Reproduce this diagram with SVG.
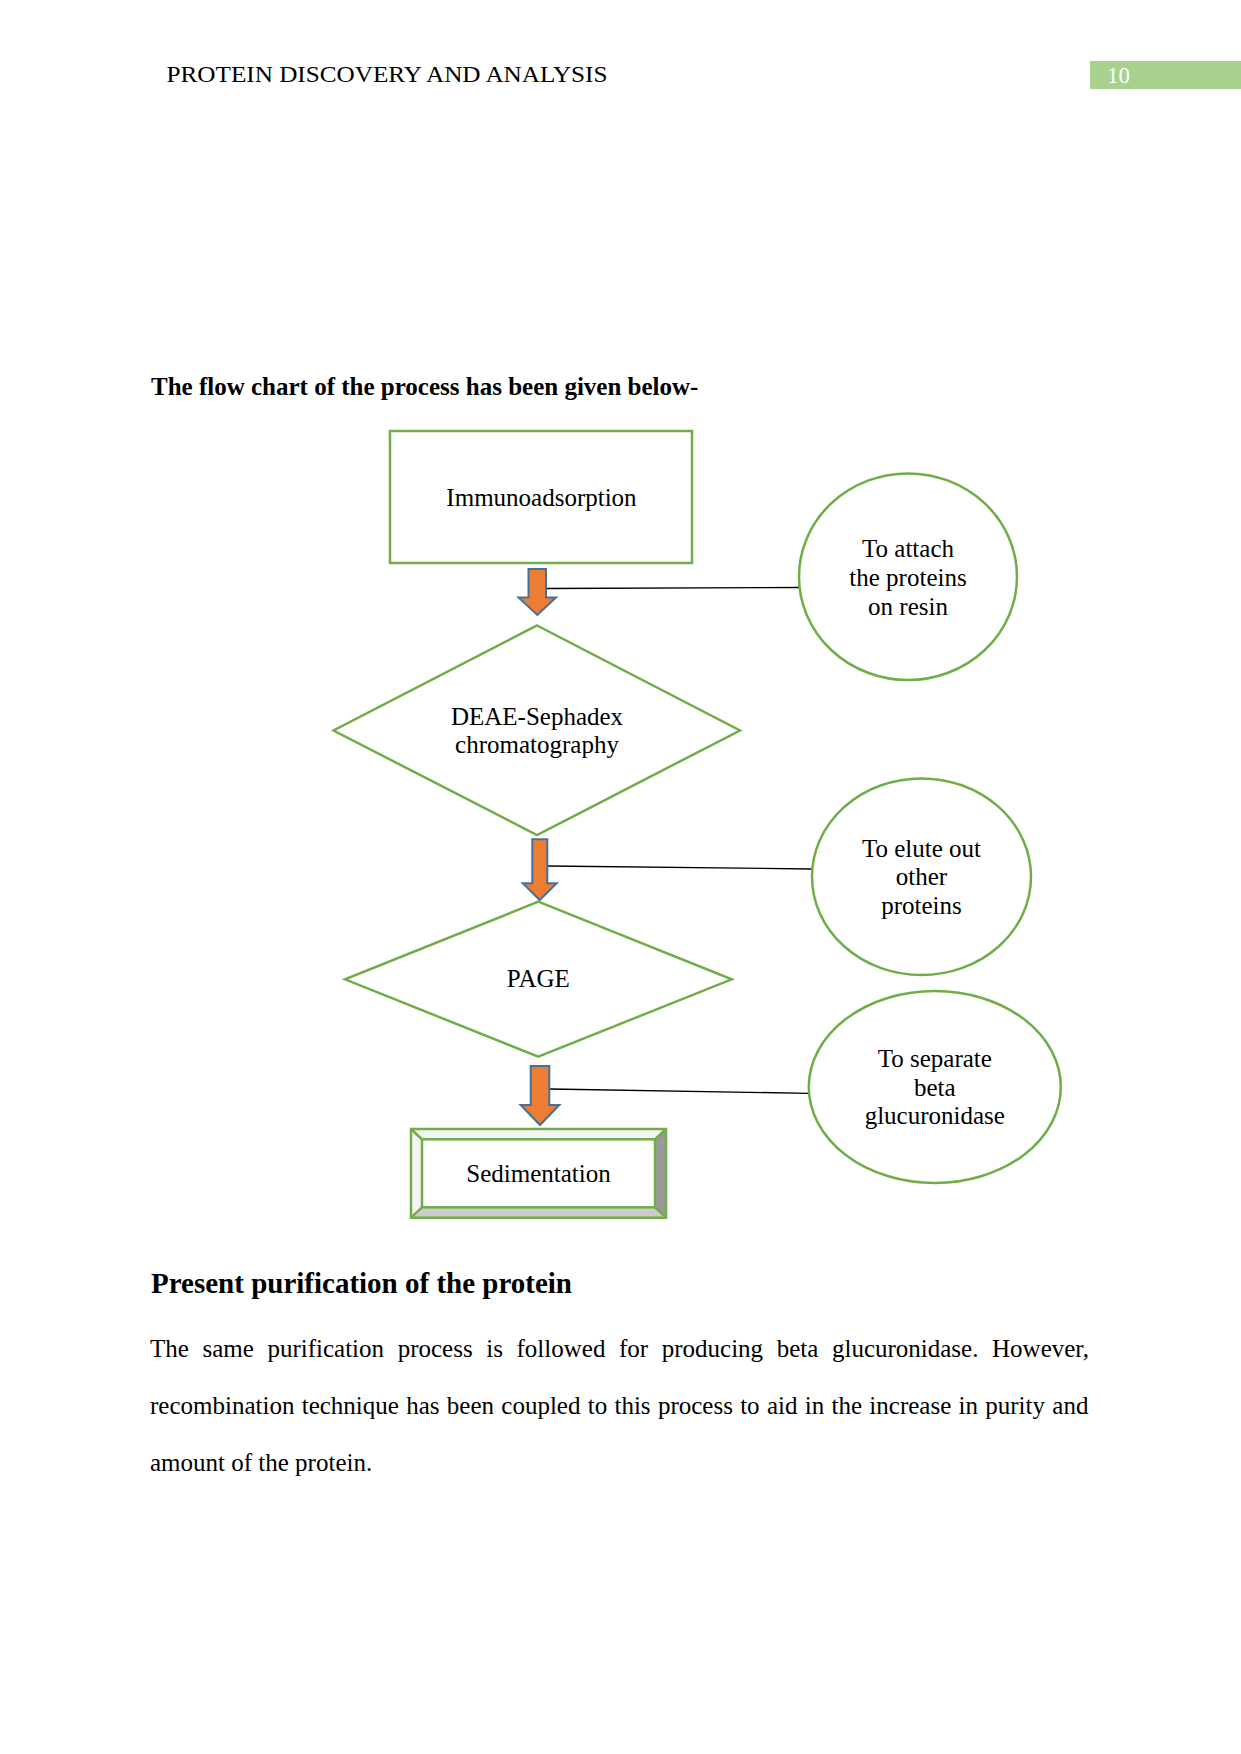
<svg xmlns="http://www.w3.org/2000/svg" width="1241" height="1754" viewBox="0 0 1241 1754">
<style>
text{font-family:"Liberation Serif","Times New Roman",serif;fill:#000}
.n{font-size:25px;text-anchor:middle}
.shape{fill:#fff;stroke:#70ad47;stroke-width:2.5}
.arrow{fill:#ed7d31;stroke:#41719c;stroke-width:2;stroke-linejoin:miter}
.conn{stroke:#000;stroke-width:1.3;fill:none}
.body{font-size:25px}
</style>
<rect width="1241" height="1754" fill="#fff"/>
<text x="166.5" y="82" font-size="23" textLength="441" lengthAdjust="spacingAndGlyphs">PROTEIN DISCOVERY AND ANALYSIS</text>
<rect x="1090" y="61" width="151" height="28" fill="#a9d18e"/>
<text x="1107" y="82.5" font-size="23" style="fill:#fff">10</text>
<text x="151" y="395" font-size="25" font-weight="bold">The flow chart of the process has been given below-</text>

<g id="connectors">
<line class="conn" x1="547" y1="588.5" x2="799" y2="587.5"/>
<line class="conn" x1="548" y1="866" x2="812" y2="869"/>
<line class="conn" x1="550" y1="1089" x2="809" y2="1093.3"/>
<polygon class="arrow" points="528.5,569 546,569 546,597.5 556,597.5 537.3,615 518.5,597.5 528.5,597.5"/>
<polygon class="arrow" points="532.3,839.3 547.3,839.3 547.3,883.3 556.7,883.3 539.7,900 522.7,883.3 532.3,883.3"/>
<polygon class="arrow" points="530.7,1066 549.3,1066 549.3,1105 559.3,1105 540,1125 520.7,1105 530.7,1105"/>
</g>

<g id="immunoadsorption">
<rect class="shape" x="390" y="431" width="302" height="132"/>
<text class="n" x="541.5" y="506">Immunoadsorption</text>
</g>

<g id="attach">
<ellipse class="shape" cx="908" cy="576.7" rx="109" ry="103.3"/>
<text class="n" x="908" y="556.7">To attach</text>
<text class="n" x="908" y="586">the proteins</text>
<text class="n" x="908" y="614.5">on resin</text>
</g>

<g id="deae">
<polygon class="shape" points="537,625.5 740,730.5 537,835 333.5,730.5"/>
<text class="n" x="537" y="725">DEAE-Sephadex</text>
<text class="n" x="537" y="753">chromatography</text>
</g>

<g id="elute">
<ellipse class="shape" cx="921.5" cy="876.7" rx="109.5" ry="98.3"/>
<text class="n" x="921.5" y="856.7">To elute out</text>
<text class="n" x="921.5" y="885">other</text>
<text class="n" x="921.5" y="914">proteins</text>
</g>

<g id="page">
<polygon class="shape" points="538.3,901.7 731.7,979.3 538.3,1056.7 345,979.3"/>
<text class="n" x="538.3" y="987">PAGE</text>
</g>

<g id="separate">
<ellipse class="shape" cx="934.8" cy="1087" rx="126" ry="96"/>
<text class="n" x="934.8" y="1067.3">To separate</text>
<text class="n" x="934.8" y="1095.5">beta</text>
<text class="n" x="934.8" y="1123.5">glucuronidase</text>
</g>

<g id="sedimentation">
<rect x="411" y="1129" width="255" height="88.7" fill="#fff"/>
<polygon points="655,1139.3 666,1129 666,1217.7 655,1207.3" fill="#999999"/>
<polygon points="422,1207.3 655,1207.3 666,1217.7 411,1217.7" fill="#cccccc"/>
<polygon points="411,1129 666,1129 655,1139.3 422,1139.3" fill="#f4f4f4"/>
<polygon points="411,1129 422,1139.3 422,1207.3 411,1217.7" fill="#f4f4f4"/>
<g fill="none" stroke="#70ad47" stroke-width="2.5">
<rect x="411" y="1129" width="255" height="88.7"/>
<rect x="422" y="1139.3" width="233" height="68"/>
<line x1="411" y1="1129" x2="422" y2="1139.3"/>
<line x1="666" y1="1129" x2="655" y2="1139.3"/>
<line x1="411" y1="1217.7" x2="422" y2="1207.3"/>
<line x1="666" y1="1217.7" x2="655" y2="1207.3"/>
</g>
<text class="n" x="538.5" y="1182">Sedimentation</text>
</g>

<text x="151" y="1292.5" font-size="29" font-weight="bold">Present purification of the protein</text>
<text class="body" x="150" y="1356.5" word-spacing="7.35">The same purification process is followed for producing beta glucuronidase. However,</text>
<text class="body" x="150" y="1413.5" word-spacing="1.05">recombination technique has been coupled to this process to aid in the increase in purity and</text>
<text class="body" x="150" y="1470.5">amount of the protein.</text>
</svg>
